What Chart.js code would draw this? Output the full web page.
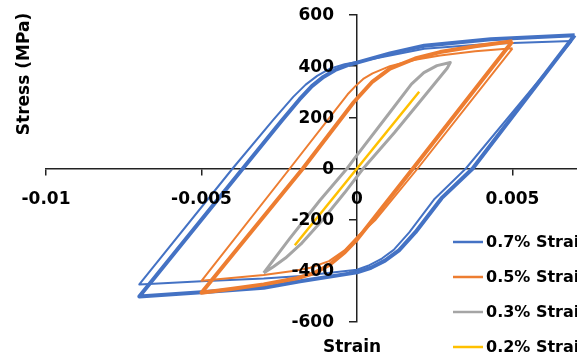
<!DOCTYPE html>
<html>
<head>
<meta charset="utf-8">
<script src="https://cdn.jsdelivr.net/npm/chart.js@4/dist/chart.umd.min.js"></script>
<style>
  html, body { margin: 0; padding: 0; background: #fff; overflow: hidden; }
  #wrap { width: 577px; height: 360px; overflow: hidden; }
</style>
</head>
<body>
<div id="wrap"><canvas id="chart" width="700" height="360"></canvas></div>
<script>
// stress-strain hysteresis loops
// each amplitude has a first cycle (a) and the later, bunched cycles (b)
const seriesLabels = ['0.7% Strain', '0.5% Strain', '0.3% Strain', '0.2% Strain'];
const seriesColors = ['#4472C4', '#ED7D31', '#A5A5A5', '#FFC000'];

const strain07a = [
  0.0069, 0.0035, 0.0025, 0.00168, 0.00118, 0.0008, 0.0004, 0, -0.0018, -0.003, -0.005, -0.007,
  -0.004, -0.0027, -0.00205, -0.00165, -0.00128, -0.00087, -0.0004, 0, 0.00106, 0.00216, 0.0043, 0.0069
];
const stress07a = [
  498, 0, -118, -250, -318, -352, -378, -396, -420, -430, -441, -453,
  0, 189, 280, 328, 362, 390, 408, 416, 442, 468, 488, 498
];
const strain07b = [
  0.007, 0.00372, 0.00272, 0.00188, 0.00135, 0.0009, 0.00045, 0, -0.00183, -0.003, -0.005, -0.007,
  -0.00367, -0.00241, -0.00185, -0.00145, -0.00108, -0.0007, -0.0003, 0, 0.00106, 0.00216, 0.0043, 0.007
];
const stress07b = [
  521, 0, -116, -249, -320, -360, -388, -406, -441, -466, -484, -500,
  0, 189, 270, 322, 358, 385, 404, 414, 450, 480, 505, 521
];

const strain05a = [
  0.005, 0.00195, 0.0006, 0, -0.0004, -0.0009, -0.0015, -0.002, -0.003, -0.005,
  -0.00216, -0.0003, -0.00005, 0.0002, 0.0005, 0.00106, 0.00187, 0.00267, 0.0038, 0.005
];
const stress05a = [
  470, 0, -200, -268, -320, -362, -388, -400, -416, -439,
  0, 290, 322, 350, 372, 400, 425, 442, 458, 470
];
const strain05b = [
  0.005, 0.0018, 0.0006, 0, -0.00039, -0.00087, -0.0014, -0.00193, -0.003, -0.004, -0.005,
  -0.00174, -0.0001, 0.0002, 0.0005, 0.00106, 0.00187, 0.00267, 0.0038, 0.005
];
const stress05b = [
  497, 0, -186, -278, -327, -375, -410, -429, -453, -470, -486,
  0, 260, 300, 340, 390, 430, 455, 478, 497
];

const strain03 = [
  -0.003, -0.00216, -0.00119, -0.00032, 0, 0.00106, 0.00175, 0.00215, 0.00257, 0.003,
  0.0029, 0.002, 0.0012, 0.0002, -0.0004, -0.0011, -0.0018, -0.0023, -0.0027, -0.003
];
const stress03 = [
  -408, -273, -124, 0, 52, 220, 330, 375, 402, 414,
  392, 258, 140, 0, -95, -200, -295, -350, -385, -408
];

const strain02 = [-0.002, 0, 0.002];
const stress02 = [-300, 0, 300];

const xTicks = [-0.01, -0.005, 0, 0.005, 0.01];
const yTicks = [-600, -400, -200, 0, 200, 400, 600];

function pts(xs, ys) {
  return xs.map((x, i) => ({ x: x, y: ys[i] }));
}

// [strain, stress, series index, line width]
const loops = [
  [strain07a, stress07a, 0, 2],
  [strain07b, stress07b, 0, 4],
  [strain05a, stress05a, 1, 2],
  [strain05b, stress05b, 1, 4],
  [strain03, stress03, 2, 3],
  [strain02, stress02, 3, 2.5]
];

const FONT = 'DejaVu Sans';
Chart.defaults.font.family = FONT;
Chart.defaults.color = '#000';

// tick labels, legend and axis titles sit where Excel put them
const decor = {
  id: 'decor',
  afterDraw(chart) {
    const c = chart.ctx;
    const sx = chart.scales.x, sy = chart.scales.y;
    c.save();
    c.fillStyle = '#000';
    c.font = 'bold 17px "' + FONT + '"';
    c.textBaseline = 'middle';

    c.textAlign = 'center';
    xTicks.forEach(v => {
      c.fillText(String(Number(v.toFixed(3))), sx.getPixelForValue(v), sy.getPixelForValue(0) + 31);
    });
    c.textAlign = 'right';
    yTicks.forEach(v => {
      c.fillText(String(v), sx.getPixelForValue(0) - 23, sy.getPixelForValue(v) + 1);
    });

    c.textAlign = 'center';
    c.fillText('Strain', 352, 348);
    c.save();
    c.translate(25, 74);
    c.rotate(-Math.PI / 2);
    c.fillText('Stress (MPa)', 0, 0);
    c.restore();

    c.font = 'bold 16px "' + FONT + '"';
    c.textAlign = 'left';
    seriesLabels.forEach((lab, i) => {
      const y = 242 + i * 35;
      c.strokeStyle = seriesColors[i];
      c.lineWidth = 2.5;
      c.beginPath();
      c.moveTo(453, y);
      c.lineTo(483, y);
      c.stroke();
      c.fillText(lab, 486, y + 1);
    });
    c.restore();
  }
};

const zeroFit = (axis) => function (scale) {
  if (axis === 'x') scale.height = 0; else scale.width = 0;
};

new Chart(document.getElementById('chart'), {
  type: 'scatter',
  data: {
    datasets: loops.map((l, i) => ({
      label: seriesLabels[l[2]],
      data: pts(l[0], l[1]),
      showLine: true,
      borderColor: seriesColors[l[2]],
      backgroundColor: seriesColors[l[2]],
      borderWidth: l[3],
      borderJoinStyle: 'round',
      pointRadius: 0,
      tension: 0,
      order: loops.length - i
    }))
  },
  options: {
    responsive: false,
    animation: false,
    devicePixelRatio: 1,
    layout: { padding: { left: 46, top: 15, right: 32, bottom: 38 } },
    plugins: { legend: { display: false }, tooltip: { enabled: false } },
    scales: {
      x: {
        type: 'linear',
        position: { y: 0 },
        min: xTicks[0],
        max: xTicks[xTicks.length - 1],
        afterFit: zeroFit('x'),
        afterBuildTicks: (s) => { s.ticks = xTicks.map(v => ({ value: v })); },
        border: { color: '#222', width: 1.5 },
        grid: { drawOnChartArea: false, color: '#222', lineWidth: 1.5, tickLength: 6 },
        ticks: { display: false }
      },
      y: {
        type: 'linear',
        position: { x: 0 },
        min: yTicks[0],
        max: yTicks[yTicks.length - 1],
        afterFit: zeroFit('y'),
        afterBuildTicks: (s) => { s.ticks = yTicks.map(v => ({ value: v })); },
        border: { color: '#222', width: 1.5 },
        grid: { drawOnChartArea: false, color: '#222', lineWidth: 1.5, tickLength: 7 },
        ticks: { display: false }
      }
    }
  },
  plugins: [decor]
});
</script>
</body>
</html>
